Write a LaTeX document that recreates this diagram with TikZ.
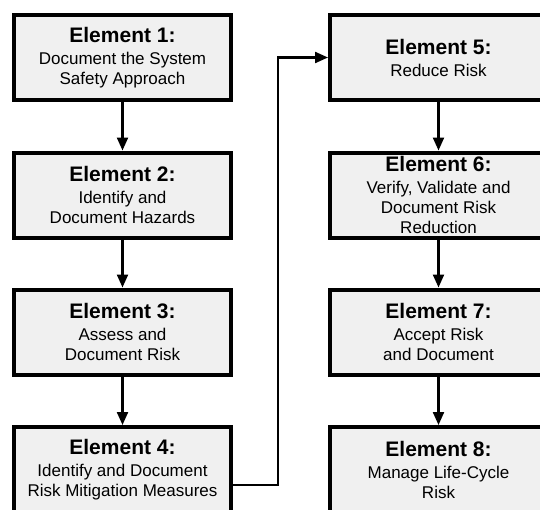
\documentclass[tikz,border=0pt]{standalone}
\usepackage{fontspec}
\setmainfont{Liberation Sans}
\usepackage{tkz-euclide}
\usetikzlibrary{arrows.meta}
\definecolor{boxgray}{HTML}{F0F0F0}

\tikzset{elem/.style={draw=black,line width=4pt,fill=boxgray,minimum width=217pt,
  minimum height=85pt,align=center,inner sep=0pt,font=\fontsize{17}{20}\selectfont},
  flow/.style={line width=2.2pt,-{Triangle[length=13pt,width=11pt]}}}
\newcommand{\elemhead}[1]{{\fontsize{21}{23}\selectfont\bfseries Element #1:}\\[2pt]}

\begin{document}
\begin{tikzpicture}[x=1pt,y=-1pt]
\useasboundingbox (0,0) rectangle (540,509);
\clip (0,0) rectangle (540,509);

\tkzDefPoint(122.5,57.5){P1}
\tkzDefPoint(122.5,195){P2}
\tkzDefPoint(122.5,332){P3}
\tkzDefPoint(122.5,469.5){P4}

  \tkzDefPoint(438.5,57.5){P5}
  \tkzDefPoint(438.5,195){P6}
  \tkzDefPoint(438.5,332){P7}
  \tkzDefPoint(438.5,469.5){P8}

\node[elem] (e1) at (P1) {\elemhead{1}Document the System\\Safety Approach};
\node[elem] (e2) at (P2) {\elemhead{2}Identify and\\Document Hazards};
\node[elem] (e3) at (P3) {\elemhead{3}Assess and\\Document Risk};
\node[elem] (e4) at (P4) {\elemhead{4}Identify and Document\\Risk Mitigation Measures};

\node[elem] (e5) at (P5) {\elemhead{5}Reduce Risk};
\node[elem] (e6) at (P6) {\elemhead{6}Verify, Validate and\\Document Risk\\Reduction};
\node[elem] (e7) at (P7) {\elemhead{7}Accept Risk\\and Document};
\node[elem] (e8) at (P8) {\elemhead{8}Manage Life-Cycle\\Risk};

\draw[flow] (e1) -- (e2);
\draw[flow] (e2) -- (e3);
\draw[flow] (e3) -- (e4);

  \draw[flow] (e5) -- (e6);
  \draw[flow] (e6) -- (e7);
  \draw[flow] (e7) -- (e8);

\tkzDefPoint(278,485){jog}
\draw[flow] (e4.east |- jog) -- (jog) |- (e5.west);

\end{tikzpicture}
\end{document}
